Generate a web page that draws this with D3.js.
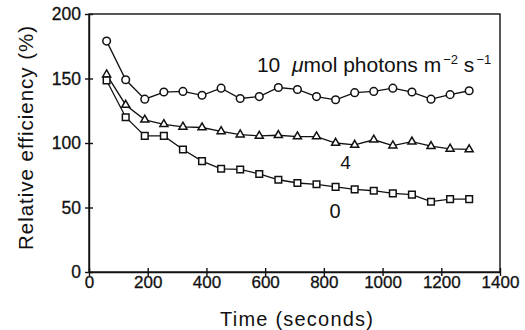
<!DOCTYPE html>
<html>
<head>
<meta charset="utf-8">
<script src="https://cdn.jsdelivr.net/npm/d3@7"></script>
<style>
  html, body { margin: 0; padding: 0; background: #fff; }
  svg { display: block; }
  text { font-family: "Liberation Sans", Arial, Helvetica, sans-serif; fill: #111; }
</style>
</head>
<body>
<svg id="chart" width="525" height="330"></svg>
<script>
// ---- data ----
const times = [60,125,190,255,320,385,450,515,580,645,710,775,840,905,970,1035,1100,1165,1230,1295];
const series10 = [179,149,134,139.5,140,137,142.5,134.5,136,143,141.5,136,133.5,139,140,142.5,139.5,134,137.5,140.5];
const series4  = [153,129.5,118,114.5,112.5,112,109,106.5,105.5,106,105,105,100,98.5,102.5,98,101,97.5,95.5,95];
const series0  = [148.5,120,105.5,105.5,95,86,80,79.5,76,71.5,69,68,66,64,63,61,60,54.5,56.5,56.5];
const xTicks = [0,200,400,600,800,1000,1200,1400];
const yTicks = [0,50,100,150,200];
const xTitle = "Time (seconds)";
const yTitle = "Relative efficiency (%)";

const svg = d3.select("#chart");
const x = d3.scaleLinear().domain([0, 1400]).range([89, 500]);
const y = d3.scaleLinear().domain([0, 200]).range([272, 14]);

// frame
svg.append("rect")
  .attr("x", x(0)).attr("y", y(200))
  .attr("width", x(1400) - x(0)).attr("height", y(0) - y(200))
  .attr("fill", "none").attr("stroke", "#111").attr("stroke-width", 1.4);

// axes
const xAxis = d3.axisBottom(x).tickValues(xTicks).tickSizeInner(4).tickSizeOuter(0).tickPadding(4).tickFormat(d3.format("d"));
const gx = svg.append("g").attr("transform", `translate(0,${y(0)})`).call(xAxis);
gx.select(".domain").attr("stroke", "#111").attr("stroke-width", 1.4);
gx.selectAll(".tick line").attr("y1", -4).attr("y2", 4).attr("stroke", "#111").attr("stroke-width", 1.4);
gx.selectAll(".tick text").attr("font-size", 17).attr("dy", "0.71em").attr("y", 4)
  .style("font-family", '"Liberation Sans", Arial, sans-serif').attr("fill", "#111")
  .attr("stroke", "#111").attr("stroke-width", 0.3);

const yAxis = d3.axisLeft(y).tickValues(yTicks).tickSizeInner(4).tickSizeOuter(0).tickPadding(8).tickFormat(d3.format("d"));
const gy = svg.append("g").attr("transform", `translate(${x(0)},0)`).call(yAxis);
gy.select(".domain").attr("stroke", "#111").attr("stroke-width", 1.4);
gy.selectAll(".tick line").attr("x1", -4).attr("x2", 4).attr("stroke", "#111").attr("stroke-width", 1.4);
gy.selectAll(".tick text").attr("font-size", 17.5).attr("x", -8)
  .style("font-family", '"Liberation Sans", Arial, sans-serif').attr("fill", "#111")
  .attr("stroke", "#111").attr("stroke-width", 0.3);

// titles
svg.append("text").attr("x", (220 + 373) / 2).attr("y", 325.5)
  .attr("text-anchor", "middle").attr("font-size", 20)
  .attr("textLength", 153).attr("lengthAdjust", "spacing").text(xTitle);
svg.append("text").attr("transform", "translate(33,138) rotate(-90)")
  .attr("text-anchor", "middle").attr("font-size", 20.5)
  .attr("textLength", 224).attr("lengthAdjust", "spacing").text(yTitle);

// series
const allSeries = [
  { name: "10", values: series10, marker: "circle" },
  { name: "4", values: series4, marker: "triangle" },
  { name: "0", values: series0, marker: "square" }
];
const line = d3.line().x((d, i) => x(times[i])).y(d => y(d));
const symbolFor = { circle: d3.symbolCircle, triangle: d3.symbolTriangle, square: d3.symbolSquare };
const sizeFor = { circle: 46, triangle: 28, square: 44 };

allSeries.forEach(s => {
  svg.append("path").datum(s.values).attr("d", line)
    .attr("fill", "none").attr("stroke", "#111").attr("stroke-width", 1.3);
  svg.append("g").selectAll("path").data(s.values).join("path")
    .attr("transform", (d, i) => `translate(${x(times[i])},${y(d)})`)
    .attr("d", d3.symbol().type(symbolFor[s.marker]).size(sizeFor[s.marker]))
    .attr("fill", "#fff").attr("stroke", "#111").attr("stroke-width", 1.5);
});

// series labels
const lbl10 = svg.append("text").attr("x", x(572)).attr("y", y(155.3)).attr("font-size", 21);
lbl10.append("tspan").text("10\u00A0\u00A0");
lbl10.append("tspan").attr("font-style", "italic").text("\u03BC");
lbl10.append("tspan").text("mol photons m");
lbl10.append("tspan").attr("font-size", 13).attr("dy", -8).attr("dx", 2).text("\u22122");
lbl10.append("tspan").attr("dy", 8).text(" s");
lbl10.append("tspan").attr("font-size", 13).attr("dy", -8).attr("dx", 2).text("\u22121");

svg.append("text").attr("x", x(874)).attr("y", y(79.8)).attr("text-anchor", "middle").attr("font-size", 19).text("4");
svg.append("text").attr("x", x(838)).attr("y", y(42.2)).attr("text-anchor", "middle").attr("font-size", 20).text("0");
</script>
</body>
</html>
